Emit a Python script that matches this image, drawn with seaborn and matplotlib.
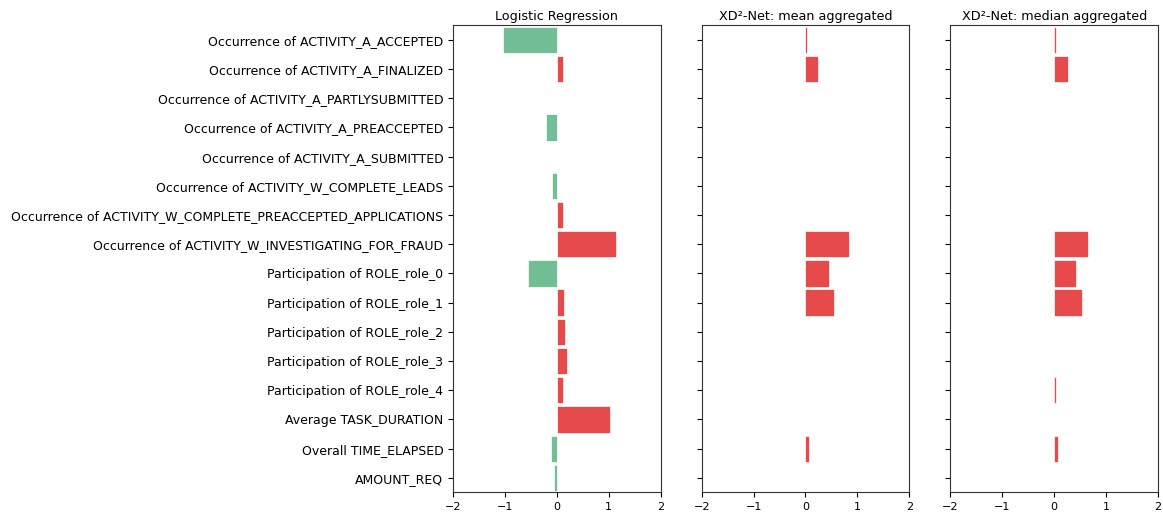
import matplotlib
matplotlib.use("Agg")
import matplotlib.pyplot as plt
import seaborn as sns
import pandas as pd

# -----------------------------
# Data
# -----------------------------
features = [
    "Occurrence of ACTIVITY_A_ACCEPTED",
    "Occurrence of ACTIVITY_A_FINALIZED",
    "Occurrence of ACTIVITY_A_PARTLYSUBMITTED",
    "Occurrence of ACTIVITY_A_PREACCEPTED",
    "Occurrence of ACTIVITY_A_SUBMITTED",
    "Occurrence of ACTIVITY_W_COMPLETE_LEADS",
    "Occurrence of ACTIVITY_W_COMPLETE_PREACCEPTED_APPLICATIONS",
    "Occurrence of ACTIVITY_W_INVESTIGATING_FOR_FRAUD",
    "Participation of ROLE_role_0",
    "Participation of ROLE_role_1",
    "Participation of ROLE_role_2",
    "Participation of ROLE_role_3",
    "Participation of ROLE_role_4",
    "Average TASK_DURATION",
    "Overall TIME_ELAPSED",
    "AMOUNT_REQ",
]

logreg = [-1.04, 0.12, 0.0, -0.21, 0.0, -0.09, 0.12, 1.13,
          -0.56, 0.13, 0.15, 0.19, 0.12, 1.03, -0.12, -0.06]
xd2_mean = [0.025, 0.25, 0.0, 0.0, 0.0, 0.0, 0.0, 0.84,
            0.45, 0.54, 0.0, 0.0, 0.0, 0.0, 0.06, 0.0]
xd2_median = [0.03, 0.26, 0.0, 0.0, 0.0, 0.0, 0.0, 0.65,
              0.42, 0.54, 0.0, 0.0, 0.03, 0.0, 0.07, 0.0]

panels = [
    ("Logistic Regression", logreg),
    ("XD²-Net: mean aggregated", xd2_mean),
    ("XD²-Net: median aggregated", xd2_median),
]

pos_color = "#e64a4b"
neg_color = "#72bf95"

# -----------------------------
# Plot
# -----------------------------
fig, axes = plt.subplots(1, 3, figsize=(11.63, 5.13), dpi=100, sharey=True)
fig.subplots_adjust(left=0.3895, right=0.9957, top=0.951, bottom=0.040, wspace=0.197)

for ax, (title, vals) in zip(axes, panels):
    df = pd.DataFrame({"feature": features, "value": vals})
    df["sign"] = ["pos" if v >= 0 else "neg" for v in vals]
    sns.barplot(
        data=df, x="value", y="feature", hue="sign",
        palette={"pos": pos_color, "neg": neg_color},
        orient="h", dodge=False, width=0.9, legend=False, saturation=1,
        edgecolor="white", linewidth=0.5, ax=ax,
    )
    ax.set_xlim(-2, 2)
    ax.set_xticks([-2, -1, 0, 1, 2])
    ax.set_title(title, fontsize=9.2, pad=4)
    ax.set_xlabel("")
    ax.set_ylabel("")
    ax.tick_params(labelsize=8, axis="x")
    ax.tick_params(labelsize=9, axis="y")
    for s in ax.spines.values():
        s.set_color("#333333")

plt.savefig("out.png", dpi=100)
